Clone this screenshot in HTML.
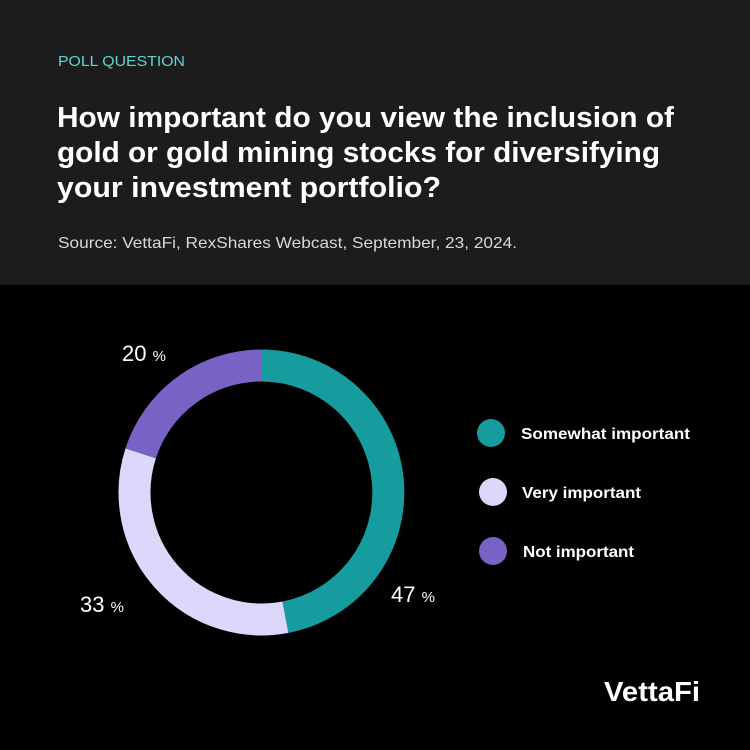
<!DOCTYPE html>
<html><head><style>
html,body{margin:0;padding:0;background:#000;}
svg{display:block}
text{font-family:"Liberation Sans",sans-serif}
</style></head><body>
<svg width="750" height="750" viewBox="0 0 750 750" xmlns="http://www.w3.org/2000/svg">
<rect width="750" height="750" fill="#000"/>
<rect width="750" height="285" fill="#1c1c1c"/>
<text x="58" y="66" font-size="15" fill="#5fd6d2" textLength="127" lengthAdjust="spacingAndGlyphs">POLL QUESTION</text>
<g font-size="29" font-weight="bold" fill="#fff">
<text x="57" y="127" textLength="617" lengthAdjust="spacingAndGlyphs">How important do you view the inclusion of</text>
<text x="57" y="162" textLength="603" lengthAdjust="spacingAndGlyphs">gold or gold mining stocks for diversifying</text>
<text x="57" y="197" textLength="384" lengthAdjust="spacingAndGlyphs">your investment portfolio?</text>
</g>
<text x="58" y="248" font-size="16" fill="#d8d8d8" textLength="459" lengthAdjust="spacingAndGlyphs">Source: VettaFi, RexShares Webcast, September, 23, 2024.</text>
<g fill="none" stroke-width="32" transform="translate(261.5,492.5)">
<path d="M0,-127 A127,127 0 0 1 23.9,124.7" stroke="#169c9f"/>
<path d="M23.9,124.7 A127,127 0 0 1 -120.8,-39.2" stroke="#dcd8fc"/>
<path d="M-120.8,-39.2 A127,127 0 0 1 0,-127" stroke="#7862c6"/>
</g>
<g fill="#fff">
<text x="122" y="361" font-size="22">20 <tspan font-size="15">%</tspan></text>
<text x="391" y="602" font-size="22">47 <tspan font-size="15">%</tspan></text>
<text x="80" y="612" font-size="22">33 <tspan font-size="15">%</tspan></text>
</g>
<circle cx="491" cy="433" r="14" fill="#169c9f"/>
<circle cx="493" cy="492" r="14" fill="#dcd8fc"/>
<circle cx="493" cy="551" r="14" fill="#7862c6"/>
<g font-size="16" font-weight="bold" fill="#fff">
<text x="521" y="439" textLength="169" lengthAdjust="spacingAndGlyphs">Somewhat important</text>
<text x="522" y="498" textLength="119" lengthAdjust="spacingAndGlyphs">Very important</text>
<text x="523" y="557" textLength="111" lengthAdjust="spacingAndGlyphs">Not important</text>
</g>
<text x="604" y="701" font-size="28" font-weight="bold" fill="#fff" textLength="96" lengthAdjust="spacingAndGlyphs">VettaFi</text>
</svg>
</body></html>
